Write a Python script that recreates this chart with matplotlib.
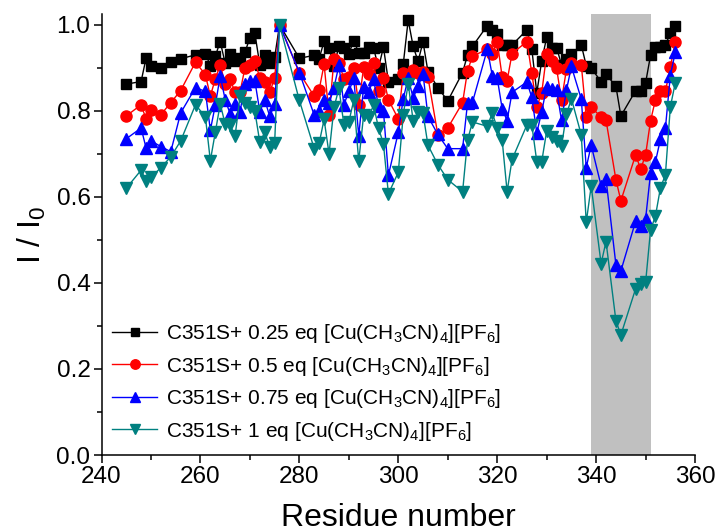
import matplotlib
matplotlib.use("Agg")
import matplotlib.pyplot as plt
from matplotlib.ticker import MultipleLocator, FormatStrFormatter

plt.rcParams['font.family'] = ['Liberation Sans', 'DejaVu Sans']
plt.rcParams['mathtext.default'] = 'regular'

residues = [245, 248, 249, 250, 252, 254, 256, 259, 261, 262, 263, 264, 265, 266, 267,
            268, 269, 270, 271, 272, 273, 274, 275, 276, 280, 283, 284, 285, 286, 287,
            288, 289, 290, 291, 292, 293, 294, 295, 296, 297, 298, 300, 301, 302, 303,
            304, 305, 306, 308, 310, 313, 314, 315, 318, 319, 320, 321, 322, 323, 326,
            327, 328, 329, 330, 331, 332, 333, 334, 335, 337, 338, 339, 341, 342, 344,
            345, 348, 349, 350, 351, 352, 353, 354, 355, 356]

eq_025 = [0.862, 0.868, 0.922, 0.905, 0.900, 0.913, 0.921, 0.930, 0.933, 0.905, 0.927, 0.961, 0.910, 0.932, 0.916,
          0.922, 0.936, 0.970, 0.980, 0.907, 0.929, 0.910, 0.924, 1.000, 0.922, 0.929, 0.921, 0.962, 0.946, 0.905,
          0.950, 0.946, 0.933, 0.963, 0.935, 0.934, 0.948, 0.946, 0.900, 0.948, 0.868, 0.875, 0.908, 1.011, 0.950,
          0.915, 0.960, 0.891, 0.854, 0.823, 0.889, 0.930, 0.950, 0.998, 0.988, 0.979, 0.953, 0.952, 0.953, 0.988,
          0.943, 0.842, 0.916, 0.971, 0.947, 0.947, 0.907, 0.920, 0.932, 0.953, 0.905, 0.899, 0.868, 0.885, 0.857,
          0.788, 0.847, 0.847, 0.865, 0.929, 0.949, 0.949, 0.952, 0.981, 0.998]

eq_05 = [0.788, 0.814, 0.781, 0.801, 0.791, 0.819, 0.847, 0.913, 0.884, 0.834, 0.874, 0.907, 0.862, 0.874, 0.843,
         0.843, 0.900, 0.907, 0.916, 0.876, 0.868, 0.843, 0.876, 1.000, 0.888, 0.834, 0.849, 0.908, 0.790, 0.920,
         0.912, 0.874, 0.878, 0.899, 0.814, 0.902, 0.886, 0.911, 0.846, 0.876, 0.826, 0.781, 0.888, 0.879, 0.895,
         0.887, 0.890, 0.878, 0.744, 0.760, 0.819, 0.893, 0.927, 0.943, 0.932, 0.961, 0.879, 0.870, 0.933, 0.961,
         0.887, 0.809, 0.842, 0.932, 0.915, 0.899, 0.825, 0.896, 0.910, 0.907, 0.786, 0.808, 0.786, 0.778, 0.640,
         0.591, 0.698, 0.664, 0.698, 0.777, 0.826, 0.847, 0.845, 0.901, 0.961]

eq_075 = [0.735, 0.760, 0.714, 0.730, 0.717, 0.705, 0.795, 0.854, 0.845, 0.755, 0.813, 0.881, 0.826, 0.793, 0.815,
          0.798, 0.862, 0.870, 0.870, 0.798, 0.826, 0.787, 0.815, 1.000, 0.889, 0.790, 0.800, 0.825, 0.817, 0.854,
          0.906, 0.814, 0.845, 0.876, 0.742, 0.856, 0.844, 0.873, 0.810, 0.800, 0.650, 0.750, 0.828, 0.876, 0.830,
          0.857, 0.886, 0.787, 0.745, 0.712, 0.712, 0.818, 0.820, 0.943, 0.882, 0.876, 0.805, 0.777, 0.843, 0.867,
          0.831, 0.749, 0.798, 0.856, 0.850, 0.848, 0.778, 0.848, 0.903, 0.827, 0.668, 0.720, 0.626, 0.641, 0.442,
          0.428, 0.544, 0.532, 0.549, 0.655, 0.682, 0.734, 0.759, 0.882, 0.936]

eq_1 = [0.620, 0.662, 0.637, 0.645, 0.668, 0.693, 0.730, 0.814, 0.786, 0.684, 0.750, 0.816, 0.769, 0.767, 0.741,
        0.834, 0.819, 0.808, 0.799, 0.727, 0.750, 0.716, 0.725, 1.000, 0.824, 0.712, 0.725, 0.780, 0.700, 0.808,
        0.852, 0.768, 0.774, 0.825, 0.683, 0.791, 0.786, 0.813, 0.760, 0.723, 0.607, 0.657, 0.791, 0.863, 0.777,
        0.797, 0.794, 0.720, 0.675, 0.640, 0.612, 0.732, 0.774, 0.764, 0.795, 0.760, 0.732, 0.612, 0.687, 0.767,
        0.767, 0.682, 0.682, 0.753, 0.740, 0.730, 0.718, 0.792, 0.828, 0.744, 0.541, 0.625, 0.445, 0.496, 0.312,
        0.279, 0.387, 0.398, 0.401, 0.523, 0.556, 0.621, 0.651, 0.809, 0.865]

labels = [r'C351S+ 0.25 eq [Cu(CH$_3$CN)$_4$][PF$_6$]',
          r'C351S+ 0.5 eq [Cu(CH$_3$CN)$_4$][PF$_6$]',
          r'C351S+ 0.75 eq [Cu(CH$_3$CN)$_4$][PF$_6$]',
          r'C351S+ 1 eq [Cu(CH$_3$CN)$_4$][PF$_6$]']
shade_range = (339, 351)

fig = plt.figure(figsize=(7.17, 5.32), dpi=100)
ax = fig.add_axes([0.1416, 0.1447, 0.8278, 0.829])

ax.axvspan(shade_range[0], shade_range[1], color='#c0c0c0', lw=0, zorder=0)

series = [(eq_025, 'black', 's', 7), (eq_05, 'red', 'o', 8),
          (eq_075, 'blue', '^', 8.5), (eq_1, '#008080', 'v', 8.5)]
for (vals, col, mk, ms), lab in zip(series, labels):
    ax.plot(residues, vals, color=col, marker=mk, ms=ms, lw=1.0, mec=col, mfc=col, label=lab)

ax.set_xlim(240, 360)
ax.set_ylim(0, 1.025)
ax.xaxis.set_major_locator(MultipleLocator(20))
ax.xaxis.set_minor_locator(MultipleLocator(10))
ax.yaxis.set_major_locator(MultipleLocator(0.2))
ax.yaxis.set_minor_locator(MultipleLocator(0.1))
ax.yaxis.set_major_formatter(FormatStrFormatter('%.1f'))

for s in ['top', 'right']:
    ax.spines[s].set_visible(False)
for s in ['left', 'bottom']:
    ax.spines[s].set_linewidth(1.1)
ax.tick_params(which='major', direction='out', length=6, width=1.1, labelsize=17.5, pad=2)
ax.tick_params(which='minor', direction='out', length=3.5, width=1.1)

ax.set_xlabel('Residue number', fontsize=23, labelpad=11)
ax.set_ylabel('I / I$_0$', fontsize=23, labelpad=6)

leg = ax.legend(loc='lower left', bbox_to_anchor=(-0.004, 0.0), frameon=False,
                fontsize=15, handlelength=2.2, handletextpad=0.4, labelspacing=0.45,
                borderaxespad=0.2, markerscale=0.85)

fig.savefig('out.png', dpi=100)
